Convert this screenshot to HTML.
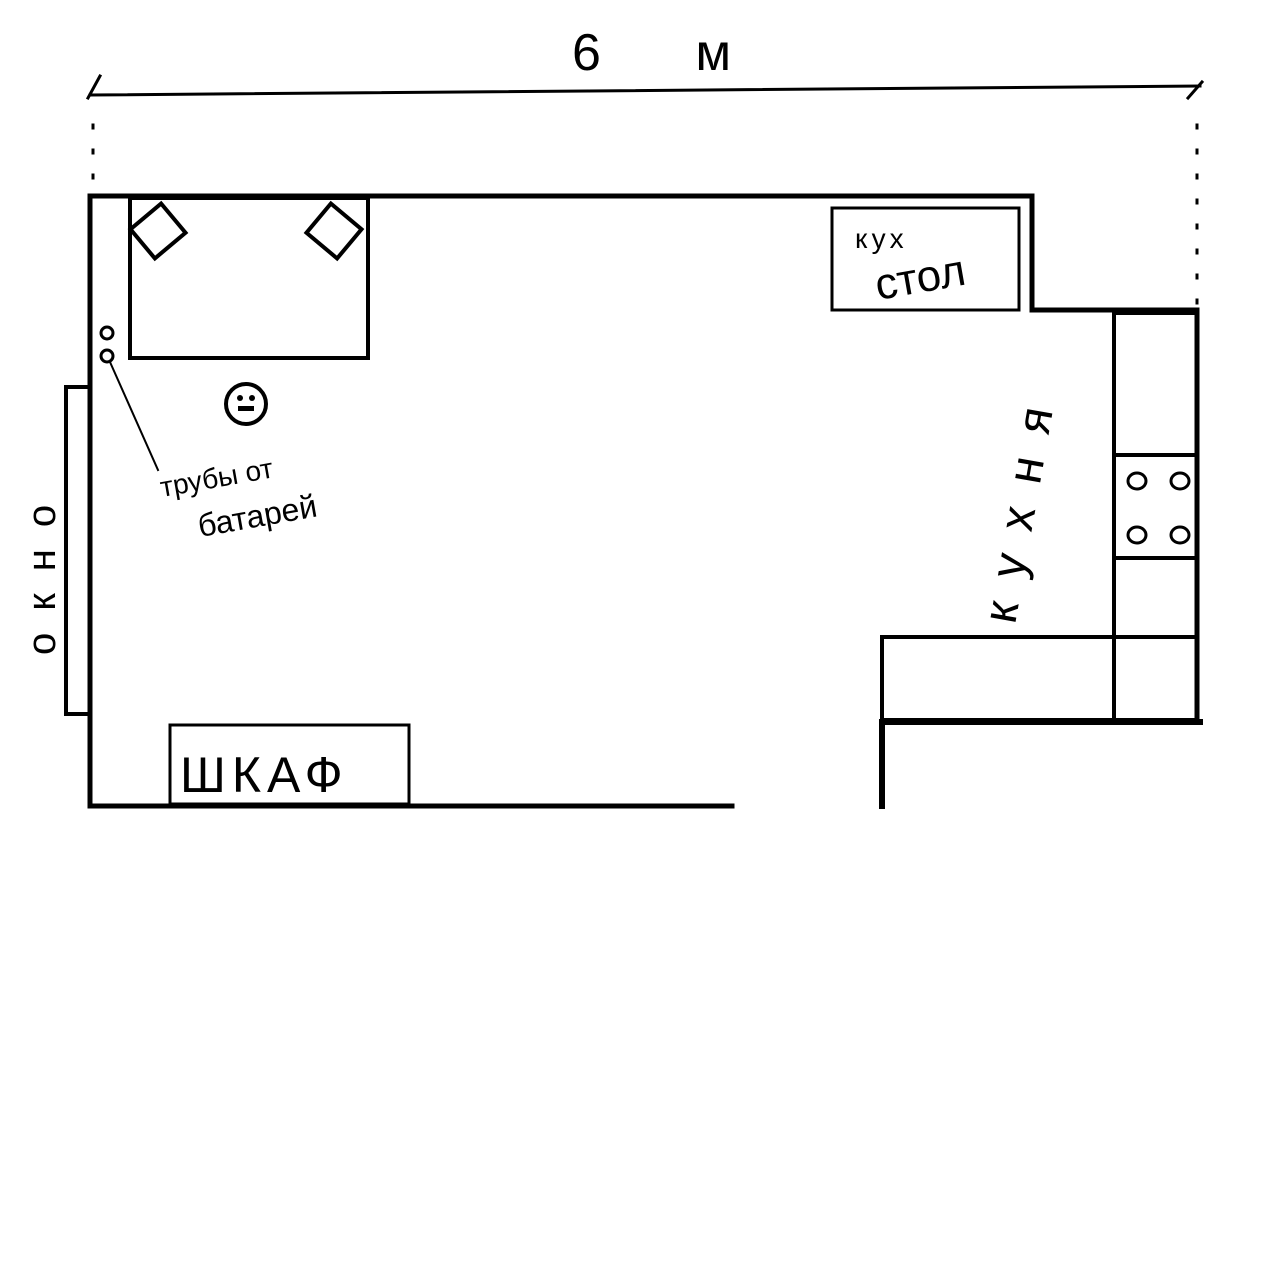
<!DOCTYPE html>
<html><head><meta charset="utf-8"><style>html,body{margin:0;padding:0;background:#fff}svg{display:block}text{font-family:"Liberation Sans","DejaVu Sans",sans-serif;fill:#000}</style></head>
<body>
<svg width="1279" height="1279" viewBox="0 0 1279 1279" xmlns="http://www.w3.org/2000/svg">
<g stroke="#000" fill="none" stroke-linecap="square">
<path d="M90 95 L1200 86" stroke-width="3"/>
<path d="M88 98 L100 76 M1188 98 L1202 82" stroke-width="3"/>
<path d="M93 125 L93 190" stroke-width="3" stroke-dasharray="3 22"/>
<path d="M1197 125 L1197 305" stroke-width="3" stroke-dasharray="3 22"/>
<path d="M90 196 L1032 196 L1032 310 L1197 310 L1197 722" stroke-width="5"/>
<path d="M90 196 L90 806 L732 806" stroke-width="5"/>
<path d="M882 806 L882 722 L1200 722" stroke-width="6"/>
<rect x="130" y="198" width="238" height="160" stroke-width="4"/>
<rect x="138" y="212" width="40" height="38" transform="rotate(-40 158 231)" stroke-width="4"/>
<rect x="314" y="212" width="40" height="38" transform="rotate(40 334 231)" stroke-width="4"/>
<rect x="66" y="387" width="24" height="327" stroke-width="4"/>
<circle cx="107" cy="333" r="6" stroke-width="3"/>
<circle cx="107" cy="356" r="6" stroke-width="3"/>
<path d="M110 362 L158 470" stroke-width="2"/>
<circle cx="246" cy="404" r="20" stroke-width="4"/>
<rect x="832" y="208" width="187" height="102" stroke-width="3"/>
<rect x="1114" y="313" width="83" height="407" stroke-width="4"/>
<path d="M1114 455 L1197 455 M1114 558 L1197 558 M1114 637 L1197 637" stroke-width="4"/>
<rect x="882" y="637" width="232" height="83" stroke-width="4"/>
<ellipse cx="1137" cy="481" rx="9" ry="8" stroke-width="3"/>
<ellipse cx="1180" cy="481" rx="9" ry="8" stroke-width="3"/>
<ellipse cx="1137" cy="535" rx="9" ry="8" stroke-width="3"/>
<ellipse cx="1180" cy="535" rx="9" ry="8" stroke-width="3"/>
<rect x="170" y="725" width="239" height="79" stroke-width="3"/>
</g>
<circle cx="240" cy="398" r="3"/><circle cx="252" cy="398" r="3"/>
<rect x="238" y="406" width="16" height="5"/>
<text x="572" y="70" font-size="52" letter-spacing="40">6 м</text>
<text x="162" y="497" font-size="28" transform="rotate(-10 162 497)">трубы от</text>
<text x="200" y="537" font-size="32" transform="rotate(-10 200 537)">батарей</text>
<text x="855" y="248" font-size="28" letter-spacing="4">кух</text>
<text x="878" y="300" font-size="44" transform="rotate(-10 878 300)">стол</text>
<text x="180" y="792" font-size="50" letter-spacing="6">ШКАФ</text>
<text x="0" y="0" font-size="48" letter-spacing="24" transform="translate(1015 625) rotate(-80)">кухня</text>
<text x="0" y="0" font-size="40" letter-spacing="22" transform="translate(55 655) rotate(-90)">окно</text>
</svg>
</body></html>
